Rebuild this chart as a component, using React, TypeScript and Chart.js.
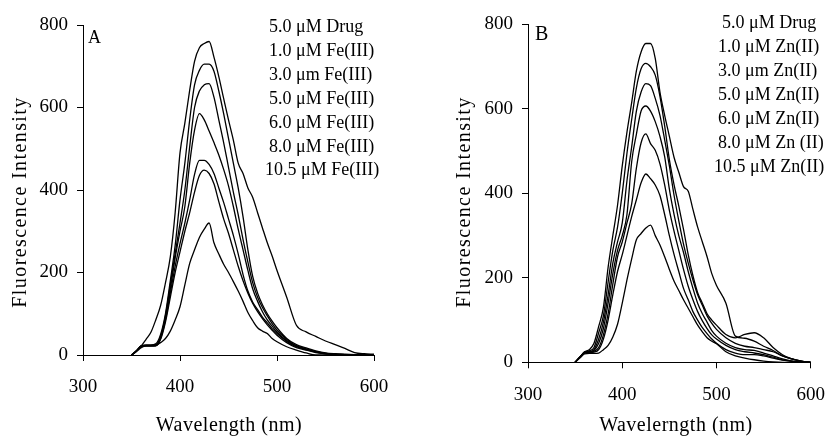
import React, { useEffect, useRef } from "react";
import { Chart, registerables } from "chart.js";

Chart.register(...registerables);

// Shared wavelength grid (nm)
const WAVELENGTHS = [
  350, 355, 360, 365, 370, 375, 380, 385, 390, 395, 400, 405, 410, 415, 420, 425, 430, 435, 440, 445,
  450, 455, 460, 465, 470, 475, 480, 485, 490, 495, 500, 510, 520, 530, 540, 550, 560, 570, 580, 590, 600,
];

const X_TICKS = [300, 400, 500, 600];
const Y_TICKS = [0, 200, 400, 600, 800];

// Panel A: Fe(III)
const A_DRUG = [0, 10, 22, 38, 55, 85, 120, 175, 238, 345, 490, 562, 642, 712, 745, 755, 760, 722, 675, 622, 570, 521, 465, 440, 405, 382, 345, 308, 272, 240, 205, 140, 72, 56, 45, 34, 25, 16, 6, 3, 2];
const A_FE_1_0 = [0, 10, 22, 24, 24, 27, 50, 100, 180, 265, 376, 465, 570, 655, 690, 705, 705, 688, 640, 585, 525, 465, 405, 335, 255, 190, 150, 122, 100, 82, 66, 40, 25, 17, 10, 5, 3, 2, 1, 0, 0];
const A_FE_3_0 = [0, 10, 22, 24, 24, 25, 45, 95, 170, 245, 320, 400, 505, 600, 640, 655, 658, 625, 570, 515, 455, 395, 340, 280, 225, 175, 140, 115, 95, 76, 60, 38, 22, 15, 8, 4, 2, 1, 0, 0, 0];
const A_FE_5_0 = [0, 10, 22, 23, 23, 24, 42, 90, 160, 235, 300, 360, 465, 545, 585, 570, 543, 515, 485, 450, 410, 360, 305, 255, 205, 160, 130, 105, 85, 70, 55, 35, 22, 14, 8, 4, 2, 1, 0, 0, 0];
const A_FE_6_0 = [0, 10, 20, 22, 22, 23, 40, 85, 150, 215, 270, 320, 376, 438, 472, 472, 462, 440, 405, 370, 330, 290, 245, 195, 155, 128, 110, 92, 78, 64, 52, 33, 20, 13, 7, 3, 2, 1, 0, 0, 0];
const A_FE_8_0 = [0, 10, 20, 22, 22, 22, 38, 80, 140, 200, 250, 300, 345, 395, 435, 448, 440, 415, 372, 330, 295, 255, 215, 180, 150, 125, 105, 88, 73, 60, 48, 30, 18, 12, 6, 3, 1, 0, 0, 0, 0];
const A_FE_10_5 = [0, 8, 18, 22, 22, 23, 30, 40, 58, 85, 117, 170, 222, 255, 285, 305, 320, 272, 245, 220, 200, 178, 155, 130, 103, 83, 66, 58, 52, 40, 32, 20, 12, 5, 0, 0, 0, 0, 0, 0, 0];

// Panel B: Zn(II)
const B_DRUG = [0, 12, 25, 30, 45, 85, 130, 225, 300, 372, 465, 545, 615, 690, 735, 755, 755, 720, 640, 585, 535, 485, 450, 416, 405, 362, 320, 285, 250, 210, 182, 140, 62, 57, 50, 38, 28, 15, 8, 3, 0];
const B_ZN_1_0 = [0, 12, 24, 27, 35, 70, 110, 190, 265, 320, 400, 495, 575, 650, 695, 708, 700, 680, 630, 560, 480, 420, 370, 315, 255, 205, 165, 140, 115, 100, 88, 66, 58, 66, 70, 58, 35, 18, 8, 3, 0];
const B_ZN_3_0 = [0, 12, 23, 25, 30, 55, 95, 160, 235, 285, 330, 430, 510, 595, 640, 660, 655, 625, 585, 527, 465, 395, 335, 280, 235, 195, 160, 135, 110, 92, 78, 58, 45, 38, 35, 30, 25, 15, 8, 3, 0];
const B_ZN_5_0 = [0, 12, 23, 25, 28, 45, 80, 140, 210, 265, 300, 350, 475, 540, 595, 607, 595, 570, 535, 487, 410, 350, 300, 260, 215, 175, 140, 115, 95, 75, 62, 45, 35, 30, 28, 22, 15, 8, 3, 1, 0];
const B_ZN_6_0 = [0, 12, 22, 24, 26, 35, 65, 115, 185, 250, 285, 330, 375, 460, 520, 541, 518, 502, 470, 420, 360, 310, 265, 220, 180, 148, 120, 98, 80, 65, 55, 40, 30, 25, 22, 18, 12, 6, 3, 1, 0];
const B_ZN_8_0 = [0, 12, 22, 23, 24, 30, 55, 100, 160, 215, 255, 300, 345, 385, 425, 446, 435, 420, 395, 350, 300, 255, 215, 175, 148, 120, 100, 82, 68, 55, 45, 30, 22, 18, 18, 15, 10, 5, 2, 0, 0];
const B_ZN_10_5 = [0, 10, 20, 21, 21, 22, 30, 40, 60, 90, 140, 195, 245, 290, 305, 318, 325, 300, 278, 250, 220, 192, 170, 148, 128, 108, 88, 72, 58, 50, 44, 25, 15, 10, 6, 3, 1, 0, 0, 0, 0];

const A_LABELS = [
  "5.0 \u03BCM Drug",
  "1.0 \u03BCM Fe(III)",
  "3.0 \u03BCm Fe(III)",
  "5.0 \u03BCM Fe(III)",
  "6.0 \u03BCM Fe(III)",
  "8.0 \u03BCM Fe(III)",
  "10.5 \u03BCM Fe(III)",
];
const B_LABELS = [
  "5.0 \u03BCM Drug",
  "1.0 \u03BCM Zn(II)",
  "3.0 \u03BCm Zn(II)",
  "5.0 \u03BCM Zn(II)",
  "6.0 \u03BCM Zn(II)",
  "8.0 \u03BCM Zn (II)",
  "10.5 \u03BCM Zn(II)",
];

const A_SERIES = [A_DRUG, A_FE_1_0, A_FE_3_0, A_FE_5_0, A_FE_6_0, A_FE_8_0, A_FE_10_5];
const B_SERIES = [B_DRUG, B_ZN_1_0, B_ZN_3_0, B_ZN_5_0, B_ZN_6_0, B_ZN_8_0, B_ZN_10_5];

const SERIF = '"Liberation Serif", "Times New Roman", serif';
const INK = "#000";

type Panel = {
  letter: string;
  series: number[][];
  labels: string[];
  xTitle: string;
  yTitle: string;
  left: number;
  padTop: number;
  padRight: number;
  yAxisWidth: number;
  xAxisHeight: number;
  letterX: number;
  letterBase: number;
  letterSize: number;
  legendX: number[];
  legendBase0: number;
  legendStep: number;
  yTitleX: number;
  yTitleY: number;
  xTitleX: number;
  xTitleBase: number;
};

const PANELS: Panel[] = [
  {
    letter: "A",
    series: A_SERIES,
    labels: A_LABELS,
    xTitle: "Wavelength (nm)",
    yTitle: "Fluorescence Intensity",
    left: 0,
    padTop: 25,
    padRight: 46,
    yAxisWidth: 83,
    xAxisHeight: 81,
    letterX: 88,
    letterBase: 43,
    letterSize: 18,
    legendX: [269, 269, 269, 269, 269, 269, 265],
    legendBase0: 32,
    legendStep: 23.9,
    yTitleX: 26,
    yTitleY: 202,
    xTitleX: 229,
    xTitleBase: 431,
  },
  {
    letter: "B",
    series: B_SERIES,
    labels: B_LABELS,
    xTitle: "Wavelerngth (nm)",
    yTitle: "Fluorescence Intensity",
    left: 420,
    padTop: 24.5,
    padRight: 18,
    yAxisWidth: 108,
    xAxisHeight: 73.7,
    letterX: 115,
    letterBase: 40,
    letterSize: 20,
    legendX: [302, 298, 298, 298, 298, 298, 294],
    legendBase0: 27.5,
    legendStep: 24,
    yTitleX: 50,
    yTitleY: 202,
    xTitleX: 256,
    xTitleBase: 431,
  },
];

function PanelChart({ panel }: { panel: Panel }) {
  const ref = useRef<HTMLCanvasElement | null>(null);

  useEffect(() => {
    const canvas = ref.current;
    if (!canvas) return;

    const textPlugin = {
      id: "panelText",
      afterDraw(chart: any) {
        const ctx = chart.ctx as CanvasRenderingContext2D;
        ctx.save();
        ctx.fillStyle = INK;
        ctx.font = `${panel.letterSize}px ${SERIF}`;
        ctx.textAlign = "left";
        ctx.textBaseline = "alphabetic";
        ctx.fillText(panel.letter, panel.letterX, panel.letterBase);
        ctx.font = `18px ${SERIF}`;
        panel.labels.forEach((t, i) => {
          ctx.fillText(t, panel.legendX[i], panel.legendBase0 + i * panel.legendStep);
        });
        (ctx as any).letterSpacing = "0.5px";
        ctx.font = `20px ${SERIF}`;
        ctx.textAlign = "center";
        ctx.fillText(panel.xTitle, panel.xTitleX, panel.xTitleBase);
        (ctx as any).letterSpacing = "1.4px";
        ctx.translate(panel.yTitleX, panel.yTitleY);
        ctx.rotate(-Math.PI / 2);
        ctx.fillText(panel.yTitle, 0, 0);
        (ctx as any).letterSpacing = "0px";
        ctx.restore();
      },
    };

    const chart = new Chart(canvas, {
      type: "line",
      data: {
        datasets: panel.series.map((vals, i) => ({
          label: panel.labels[i],
          data: WAVELENGTHS.map((w, j) => ({ x: w, y: vals[j] })),
          borderColor: "#000",
          borderWidth: 1.3,
          pointRadius: 0,
          fill: false,
          cubicInterpolationMode: "monotone" as const,
        })),
      },
      options: {
        animation: false,
        responsive: false,
        maintainAspectRatio: false,
        devicePixelRatio: 1,
        layout: {
          padding: { left: 0, top: panel.padTop, right: panel.padRight, bottom: 0 },
        },
        plugins: {
          legend: { display: false },
          tooltip: { enabled: false },
          title: { display: false },
        },
        scales: {
          x: {
            type: "linear",
            min: X_TICKS[0],
            max: X_TICKS[X_TICKS.length - 1],
            afterBuildTicks: (scale: any) => {
              scale.ticks = X_TICKS.map((v) => ({ value: v }));
            },
            afterFit: (scale: any) => {
              scale.height = panel.xAxisHeight;
            },
            grid: {
              display: true,
              drawOnChartArea: false,
              drawTicks: true,
              tickLength: 6,
              color: "#000",
              lineWidth: 1,
            },
            border: { display: true, color: "#000", width: 1 },
            ticks: {
              padding: 15,
              color: INK,
              font: { family: SERIF, size: 19 },
              maxRotation: 0,
              autoSkip: false,
            },
            title: { display: false },
          },
          y: {
            type: "linear",
            min: Y_TICKS[0],
            max: Y_TICKS[Y_TICKS.length - 1],
            afterBuildTicks: (scale: any) => {
              scale.ticks = Y_TICKS.map((v) => ({ value: v }));
            },
            afterFit: (scale: any) => {
              scale.width = panel.yAxisWidth;
            },
            grid: {
              display: true,
              drawOnChartArea: false,
              drawTicks: true,
              tickLength: 6,
              color: "#000",
              lineWidth: 1,
            },
            border: { display: true, color: "#000", width: 1 },
            ticks: {
              padding: 9,
              color: INK,
              font: { family: SERIF, size: 19 },
              autoSkip: false,
            },
            title: { display: false },
          },
        },
      },
      plugins: [textPlugin],
    });

    return () => {
      chart.destroy();
    };
  }, [panel]);

  return (
    <canvas
      ref={ref}
      width={420}
      height={436}
      style={{ position: "absolute", left: panel.left, top: 0, width: 420, height: 436 }}
    />
  );
}

export default function App() {
  return (
    <div
      style={{
        position: "absolute",
        left: 0,
        top: 0,
        width: 840,
        height: 436,
        background: "#fff",
        overflow: "hidden",
      }}
    >
      {PANELS.map((p) => (
        <PanelChart key={p.letter} panel={p} />
      ))}
    </div>
  );
}
